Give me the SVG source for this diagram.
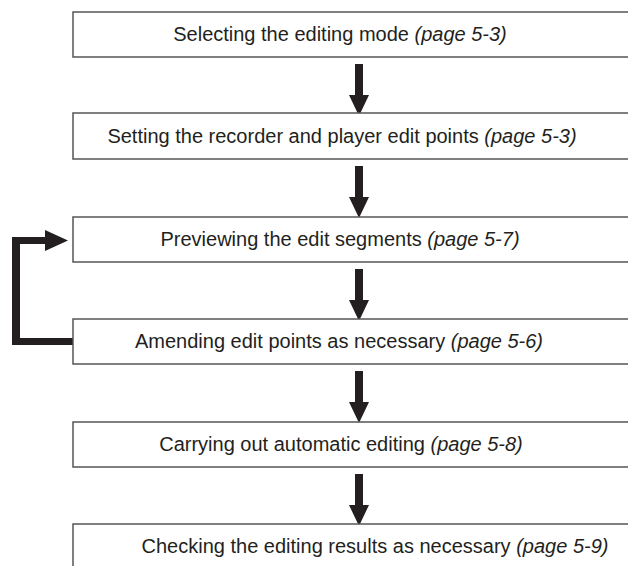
<svg xmlns="http://www.w3.org/2000/svg" width="628" height="566" viewBox="0 0 628 566">
<style>
.box{fill:#fff;stroke:#555;stroke-width:1.5}
.t{font-family:"Liberation Sans",Arial,sans-serif;font-size:20px;fill:#231f20;text-anchor:middle}
.i{font-style:italic}
.arr{fill:#231f20}
</style>
<defs>
<path id="down" class="arr" d="M-4,0 H4 V31 H10 L0,52 L-10,31 H-4 Z"/>
</defs>
<rect width="628" height="566" fill="#fff"/>
<g id="connectors">
<use href="#down" x="359" y="64"/>
<use href="#down" x="359" y="166"/>
<use href="#down" x="359" y="269"/>
<use href="#down" x="359" y="371"/>
<use href="#down" x="359" y="474"/>
<path class="arr" d="M73,345 H20 V244 H45 V230 L68,240.5 L45,251 V237 H12 V345 Z"/>
<path class="arr" d="M12,338 H73 V345 H12 Z"/>
</g>
<g id="n1"><rect class="box" x="73" y="12" width="570" height="45"/><text class="t" x="340" y="41">Selecting the editing mode <tspan class="i">(page 5-3)</tspan></text></g>
<g id="n2"><rect class="box" x="73" y="113" width="570" height="46"/><text class="t" x="342" y="143">Setting the recorder and player edit points <tspan class="i">(page 5-3)</tspan></text></g>
<g id="n3"><rect class="box" x="73" y="217" width="570" height="45"/><text class="t" x="340" y="246">Previewing the edit segments <tspan class="i">(page 5-7)</tspan></text></g>
<g id="n4"><rect class="box" x="73" y="319" width="570" height="45"/><text class="t" x="339" y="348">Amending edit points as necessary <tspan class="i">(page 5-6)</tspan></text></g>
<g id="n5"><rect class="box" x="73" y="422" width="570" height="45"/><text class="t" x="341" y="451">Carrying out automatic editing <tspan class="i">(page 5-8)</tspan></text></g>
<g id="n6"><rect class="box" x="73" y="524" width="570" height="50"/><text class="t" x="375" y="553">Checking the editing results as necessary <tspan class="i">(page 5-9)</tspan></text></g>
</svg>
